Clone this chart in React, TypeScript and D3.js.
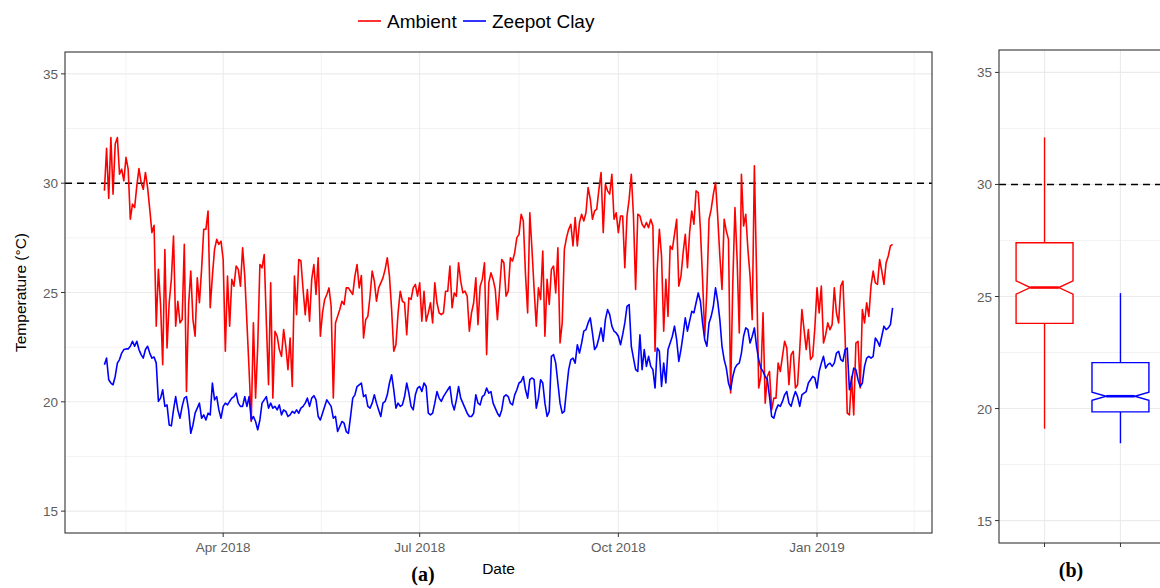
import React from 'react';
import * as d3 from 'd3';

// daily means, 5 Feb 2018 -> 5 Feb 2019
const ambient = [
  29.65, 31.59, 29.30, 32.09, 29.50, 31.79, 32.09, 30.41, 30.64, 30.11,
  31.18, 30.64, 28.35, 29.04, 28.88, 29.88, 30.67, 30.03, 29.72, 30.49,
  29.80, 28.81, 27.74, 28.07, 23.46, 26.06, 24.45, 21.70, 26.97, 22.46,
  24.53, 25.60, 27.58, 23.46, 24.60, 23.61, 23.76, 27.20, 20.47, 24.45,
  25.98, 23.76, 23.00, 25.67, 24.53, 26.06, 27.89, 27.89, 28.73, 24.30,
  25.75, 26.97, 27.43, 27.20, 27.35, 26.51, 22.31, 25.75, 23.46, 25.60,
  25.29, 26.21, 26.06, 25.29, 27.05, 25.75, 23.61, 21.47, 19.10, 23.61,
  20.17, 22.54, 26.28, 26.13, 26.74, 23.61, 20.78, 25.44, 20.17, 23.23,
  23.00, 22.39, 22.08, 23.30, 22.54, 21.47, 22.92, 20.70, 25.75, 23.99,
  26.51, 26.44, 25.14, 23.99, 25.14, 23.69, 25.60, 26.28, 24.91, 26.59,
  23.00, 24.07, 24.68, 24.91, 25.21, 24.37, 20.17, 23.61, 23.91, 24.22,
  24.60, 24.45, 25.21, 25.21, 25.06, 24.91, 25.75, 26.28, 25.21, 25.78,
  22.92, 23.76, 23.91, 24.83, 25.98, 25.52, 24.60, 25.21, 25.44, 25.67,
  26.06, 26.59, 25.75, 24.22, 22.31, 22.61, 24.07, 25.06, 24.60, 24.53,
  23.07, 24.76, 24.68, 25.21, 25.37, 24.83, 25.44, 23.69, 25.06, 23.69,
  24.07, 24.53, 23.61, 25.44, 24.53, 24.07, 23.99, 24.07, 25.06, 25.06,
  26.21, 24.30, 24.98, 24.83, 26.36, 25.52, 24.98, 25.06, 24.83, 23.23,
  24.07, 24.53, 25.67, 23.53, 25.29, 25.60, 26.36, 22.16, 25.44, 25.90,
  25.60, 25.14, 23.76, 25.14, 26.51, 26.36, 24.83, 25.06, 26.59, 26.44,
  26.82, 27.51, 27.66, 28.58, 28.27, 25.83, 24.07, 28.65, 26.97, 25.14,
  23.46, 25.21, 24.68, 26.90, 23.00, 25.60, 24.45, 26.06, 26.21, 24.98,
  27.05, 22.69, 23.61, 26.97, 27.51, 27.89, 28.12, 27.13, 28.43, 27.13,
  28.20, 28.58, 28.27, 28.65, 29.80, 29.27, 28.35, 28.73, 28.81, 29.72,
  30.49, 27.74, 29.95, 29.65, 29.50, 30.41, 28.35, 28.65, 27.74, 28.50,
  28.50, 26.13, 28.50, 29.27, 30.41, 28.50, 25.14, 28.58, 28.50, 28.12,
  27.97, 28.20, 27.97, 28.35, 28.04, 22.31, 26.06, 27.89, 26.67, 23.23,
  25.60, 23.91, 27.13, 26.97, 27.66, 28.35, 25.29, 25.75, 26.82, 27.66,
  26.13, 27.74, 28.73, 28.12, 29.65, 29.57, 27.89, 25.60, 23.00, 25.14,
  28.35, 28.81, 29.50, 30.03, 28.50, 26.67, 25.14, 28.35, 27.81, 27.43,
  20.40, 25.44, 28.88, 26.51, 23.15, 30.41, 28.04, 28.58, 26.97, 25.75,
  23.76, 30.80, 25.90, 20.63, 21.16, 24.07, 19.94, 21.16, 21.39, 19.63,
  20.17, 20.17, 21.77, 21.39, 22.08, 22.77, 22.46, 20.78, 22.16, 22.31,
  20.63, 20.78, 22.39, 24.22, 23.30, 22.39, 23.30, 21.93, 22.08, 23.38,
  25.21, 24.07, 25.29, 22.69, 23.07, 23.61, 23.30, 23.53, 25.21, 24.07,
  23.61, 25.29, 25.52, 23.00, 19.48, 19.40, 21.16, 19.40, 22.69, 22.77,
  20.63, 24.22, 23.61, 24.53, 23.91, 25.29, 25.98, 25.44, 25.37, 26.51,
  25.98, 25.37, 26.36, 26.67, 27.13, 27.20,
];

const zeepot = [
  21.70, 22.00, 21.01, 20.86, 20.78, 21.16, 21.77, 21.93, 22.23, 22.39,
  22.42, 22.42, 22.54, 22.77, 22.54, 22.77, 22.39, 22.16, 22.00, 22.39,
  22.54, 22.23, 22.00, 22.05, 21.77, 20.02, 20.17, 20.55, 19.79, 19.86,
  18.94, 18.90, 19.63, 20.24, 19.63, 19.25, 19.79, 20.17, 20.24, 19.63,
  18.56, 18.94, 19.48, 19.71, 19.94, 19.25, 19.40, 19.17, 19.48, 19.40,
  20.86, 20.09, 20.24, 19.63, 19.25, 19.79, 19.94, 19.86, 20.02, 20.17,
  20.24, 20.40, 19.94, 19.79, 19.79, 20.24, 19.79, 20.24, 19.17, 19.33,
  19.10, 18.72, 19.17, 19.94, 20.09, 20.24, 19.71, 19.94, 19.71, 19.79,
  19.63, 19.86, 19.40, 19.63, 19.56, 19.33, 19.40, 19.56, 19.48, 19.63,
  19.48, 19.71, 19.79, 19.94, 20.17, 19.79, 20.17, 20.28, 20.09, 19.33,
  19.17, 19.48, 19.79, 20.09, 19.94, 19.79, 19.25, 19.33, 18.64, 18.87,
  19.10, 19.02, 18.64, 18.56, 19.33, 20.17, 20.32, 20.70, 20.78, 20.86,
  20.24, 20.32, 19.79, 19.71, 19.94, 20.32, 19.94, 19.63, 19.33, 19.94,
  20.02, 20.32, 20.86, 21.24, 20.55, 19.71, 19.94, 19.79, 19.86, 20.24,
  20.86, 20.40, 19.79, 19.63, 20.32, 20.63, 20.70, 20.47, 20.86, 20.70,
  19.48, 19.40, 19.48, 19.94, 20.47, 20.17, 20.02, 20.24, 20.40, 20.55,
  20.70, 19.94, 19.63, 20.09, 20.70, 20.17, 19.94, 19.71, 19.48, 19.33,
  19.33, 19.48, 20.32, 19.94, 19.86, 20.24, 20.32, 20.63, 20.40, 20.47,
  19.94, 19.71, 19.48, 19.33, 19.63, 20.24, 20.32, 20.24, 19.94, 19.86,
  20.32, 20.55, 20.86, 20.93, 21.16, 20.55, 20.17, 21.01, 21.09, 21.01,
  19.71, 20.17, 21.01, 20.86, 19.94, 19.33, 19.56, 22.08, 22.16, 21.77,
  20.86, 19.94, 19.48, 19.56, 20.55, 21.47, 21.93, 22.00, 21.77, 22.61,
  22.23, 22.69, 23.23, 23.30, 23.61, 23.84, 23.15, 22.39, 22.54, 22.92,
  23.38, 22.77, 23.76, 24.22, 23.99, 23.46, 23.23, 23.15, 23.00, 22.61,
  23.07, 23.61, 24.37, 24.45, 22.54, 22.00, 21.47, 21.39, 23.07, 21.47,
  22.39, 21.62, 22.08, 21.62, 21.47, 20.63, 22.46, 22.31, 20.70, 21.77,
  20.86, 22.39, 22.69, 23.00, 23.46, 22.84, 21.85, 22.39, 23.07, 23.84,
  23.23, 23.69, 24.14, 24.07, 24.53, 24.98, 24.60, 23.61, 22.84, 22.54,
  23.61, 23.91, 24.37, 25.21, 24.60, 23.76, 22.54, 21.93, 21.54, 20.86,
  20.55, 21.16, 21.54, 21.70, 21.77, 22.23, 23.00, 23.38, 23.30, 22.69,
  23.00, 23.38, 22.54, 21.93, 21.54, 21.39, 21.16, 21.01, 20.24, 19.33,
  19.25, 19.63, 19.86, 19.79, 20.02, 20.32, 20.47, 19.94, 19.79, 20.17,
  20.47, 20.24, 19.79, 20.32, 20.40, 20.47, 20.86, 21.01, 21.16, 21.09,
  20.63, 21.39, 21.77, 22.08, 21.54, 21.70, 21.77, 21.62, 21.77, 22.23,
  22.31, 21.93, 21.85, 22.39, 22.46, 20.55, 21.01, 21.54, 21.47, 21.01,
  20.70, 20.86, 21.62, 22.00, 22.08, 22.00, 22.08, 22.92, 22.77, 22.54,
  23.00, 23.46, 23.30, 23.38, 23.53, 24.30,
];

const seriesNames = ['Ambient', 'Zeepot Clay'];
const seriesColors = ['#ff0000', '#0000ff'];
const startDate = new Date(2018, 1, 5);
const xTicks = [new Date(2018, 3, 1), new Date(2018, 6, 1), new Date(2018, 9, 1), new Date(2019, 0, 1)];
const xTickLabels = ['Apr 2018', 'Jul 2018', 'Oct 2018', 'Jan 2019'];
const xMinorBreaks = [new Date(2018, 0, 1), ...xTicks, new Date(2019, 3, 1)];
const yTicks = [15, 20, 25, 30, 35];
const yMinor = [17.5, 22.5, 27.5, 32.5];
const threshold = 30;

// boxplot stats (panel b)
const boxMin = [19.1, 18.45];
const boxQ1 = [23.8, 19.85];
const boxMedian = [25.4, 20.55];
const boxQ3 = [27.4, 22.05];
const boxMax = [32.1, 25.15];

const W = 1160;
const H = 588;
const A = { left: 65, right: 932, top: 52, bottom: 533 };
const B = { left: 999, right: 1166, top: 50, bottom: 543 };
const GRID = '#ebebeb';
const AXIS = '#333333';
const TICKTXT = '#5e5e5e';
const SERIF = "'Liberation Serif', 'DejaVu Serif', serif";

export default function App() {
  const dates = ambient.map((_, i) => d3.timeDay.offset(startDate, i));
  const t0 = +dates[0];
  const t1 = +dates[dates.length - 1];
  const pad = (t1 - t0) * 0.05;
  const x = d3.scaleTime().domain([new Date(t0 - pad), new Date(t1 + pad)]).range([A.left, A.right]);
  const y = d3.scaleLinear().domain([14, 36]).range([A.bottom, A.top]);
  const yB = d3.scaleLinear().domain([14, 36]).range([B.bottom, B.top]);
  const xB = d3.scaleLinear().domain([0.4, 2.6]).range([B.left, B.right]);

  const minorX = d3.pairs(xMinorBreaks).map(([a, b]) => new Date((+a + +b) / 2));

  const line = d3.line<number>()
    .x((_, i) => x(dates[i]))
    .y(d => y(d));

  const series = [ambient, zeepot];
  const n = ambient.length;
  const halfW = (xB(1.375) - xB(1));

  return (
    <svg width={W} height={H} style={{ position: 'absolute', left: 0, top: 0, background: '#fff' }}
      fontFamily="'Liberation Sans', Arial, sans-serif">
      {/* legend */}
      <g>
        <line x1={358} x2={381} y1={21} y2={21} stroke={seriesColors[0]} strokeWidth={1.6} />
        <text x={387} y={28} fontSize={19} fill="#000">{seriesNames[0]}</text>
        <line x1={463} x2={486} y1={21} y2={21} stroke={seriesColors[1]} strokeWidth={1.6} />
        <text x={492} y={28} fontSize={19} fill="#000">{seriesNames[1]}</text>
      </g>

      {/* panel a */}
      <g>
        {yMinor.map(v => (
          <line key={'ym' + v} x1={A.left} x2={A.right} y1={y(v)} y2={y(v)} stroke={GRID} strokeWidth={0.6} />
        ))}
        {minorX.map((d, i) => (
          <line key={'xm' + i} x1={x(d)} x2={x(d)} y1={A.top} y2={A.bottom} stroke={GRID} strokeWidth={0.6} />
        ))}
        {yTicks.map(v => (
          <line key={'yg' + v} x1={A.left} x2={A.right} y1={y(v)} y2={y(v)} stroke={GRID} strokeWidth={1.1} />
        ))}
        {xTicks.map((d, i) => (
          <line key={'xg' + i} x1={x(d)} x2={x(d)} y1={A.top} y2={A.bottom} stroke={GRID} strokeWidth={1.1} />
        ))}
        <line x1={A.left} x2={A.right} y1={y(threshold)} y2={y(threshold)} stroke="#000" strokeWidth={1.5} strokeDasharray="7,5" />
        {series.map((s, k) => (
          <path key={k} d={line(s) || ''} fill="none" stroke={seriesColors[k]} strokeWidth={1.6} strokeLinejoin="round" />
        ))}
        <rect x={A.left} y={A.top} width={A.right - A.left} height={A.bottom - A.top} fill="none" stroke={AXIS} strokeWidth={1.1} />
        {yTicks.map(v => (
          <g key={'yt' + v}>
            <line x1={A.left - 4} x2={A.left} y1={y(v)} y2={y(v)} stroke={AXIS} strokeWidth={1} />
            <text x={A.left - 7} y={y(v) + 5} fontSize={13.5} fill={TICKTXT} textAnchor="end">{v}</text>
          </g>
        ))}
        {xTicks.map((d, i) => (
          <g key={'xt' + i}>
            <line x1={x(d)} x2={x(d)} y1={A.bottom} y2={A.bottom + 4} stroke={AXIS} strokeWidth={1} />
            <text x={x(d)} y={A.bottom + 19} fontSize={13.5} fill={TICKTXT} textAnchor="middle">{xTickLabels[i]}</text>
          </g>
        ))}
        <text transform={`translate(26,${(A.top + A.bottom) / 2}) rotate(-90)`} fontSize={15.5} textAnchor="middle" fill="#000">Temperature (°C)</text>
        <text x={(A.left + A.right) / 2} y={574} fontSize={15.5} textAnchor="middle" fill="#000">Date</text>
        <text x={423} y={581} fontSize={20} fontWeight={700} textAnchor="middle" fill="#000" fontFamily={SERIF}>(a)</text>
      </g>

      {/* panel b */}
      <g>
        {yMinor.map(v => (
          <line key={'bym' + v} x1={B.left} x2={B.right} y1={yB(v)} y2={yB(v)} stroke={GRID} strokeWidth={0.6} />
        ))}
        {yTicks.map(v => (
          <line key={'byg' + v} x1={B.left} x2={B.right} y1={yB(v)} y2={yB(v)} stroke={GRID} strokeWidth={1.1} />
        ))}
        {seriesNames.map((_, i) => (
          <line key={'bxg' + i} x1={xB(i + 1)} x2={xB(i + 1)} y1={B.top} y2={B.bottom} stroke={GRID} strokeWidth={1.1} />
        ))}
        <line x1={B.left} x2={B.right} y1={yB(threshold)} y2={yB(threshold)} stroke="#000" strokeWidth={1.5} strokeDasharray="7,5" />
        {seriesNames.map((_, i) => {
          const cx = xB(i + 1);
          const notch = 1.58 * (boxQ3[i] - boxQ1[i]) / Math.sqrt(n);
          const l = cx - halfW;
          const r = cx + halfW;
          const inset = halfW * 0.5;
          const pts: [number, number][] = [
            [l, yB(boxQ1[i])], [l, yB(boxMedian[i] - notch)], [l + inset, yB(boxMedian[i])],
            [l, yB(boxMedian[i] + notch)], [l, yB(boxQ3[i])], [r, yB(boxQ3[i])],
            [r, yB(boxMedian[i] + notch)], [r - inset, yB(boxMedian[i])], [r, yB(boxMedian[i] - notch)],
            [r, yB(boxQ1[i])],
          ];
          const c = seriesColors[i];
          return (
            <g key={'box' + i}>
              <line x1={cx} x2={cx} y1={yB(boxQ3[i])} y2={yB(boxMax[i])} stroke={c} strokeWidth={1.4} />
              <line x1={cx} x2={cx} y1={yB(boxQ1[i])} y2={yB(boxMin[i])} stroke={c} strokeWidth={1.4} />
              <polygon points={pts.map(p => p.join(',')).join(' ')} fill="#fff" stroke={c} strokeWidth={1.4} />
              <line x1={l + inset} x2={r - inset} y1={yB(boxMedian[i])} y2={yB(boxMedian[i])} stroke={c} strokeWidth={2.6} />
            </g>
          );
        })}
        <rect x={B.left} y={B.top} width={B.right - B.left} height={B.bottom - B.top} fill="none" stroke={AXIS} strokeWidth={1.1} />
        {yTicks.map(v => (
          <g key={'byt' + v}>
            <line x1={B.left - 4} x2={B.left} y1={yB(v)} y2={yB(v)} stroke={AXIS} strokeWidth={1} />
            <text x={B.left - 7} y={yB(v) + 5} fontSize={13.5} fill={TICKTXT} textAnchor="end">{v}</text>
          </g>
        ))}
        {seriesNames.map((_, i) => (
          <line key={'bxt' + i} x1={xB(i + 1)} x2={xB(i + 1)} y1={B.bottom} y2={B.bottom + 4} stroke={AXIS} strokeWidth={1} />
        ))}
        <text x={1071} y={577} fontSize={20} fontWeight={700} textAnchor="middle" fill="#000" fontFamily={SERIF}>(b)</text>
      </g>
    </svg>
  );
}
